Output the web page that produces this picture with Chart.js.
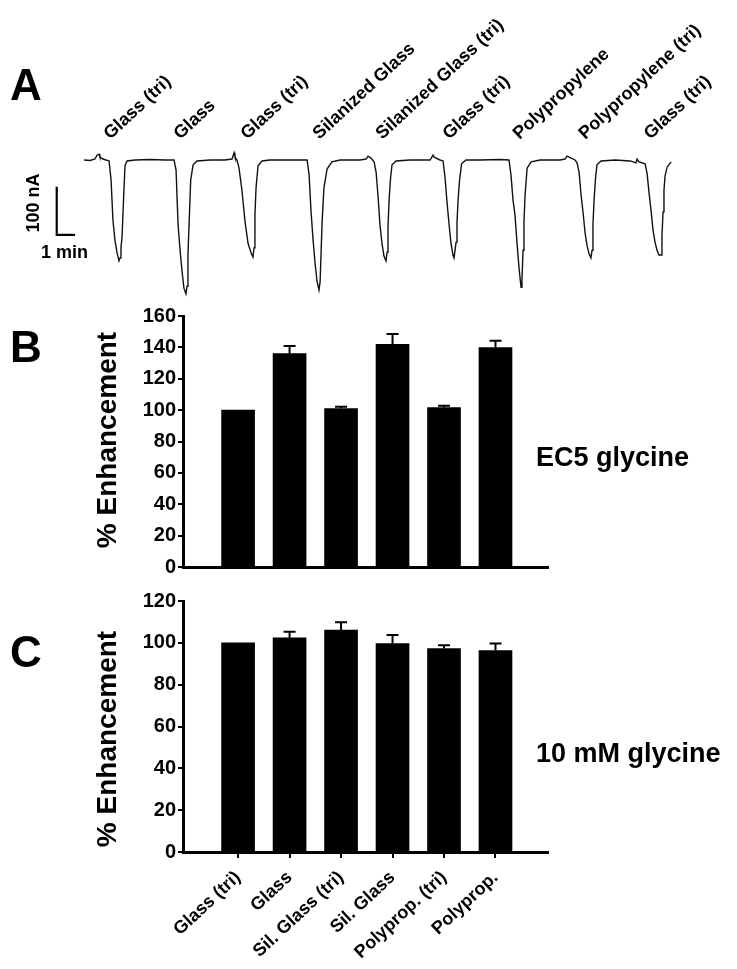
<!DOCTYPE html>
<html><head><meta charset="utf-8">
<script src="https://cdn.jsdelivr.net/npm/chart.js@4.4.0/dist/chart.umd.min.js"></script>
<style>
body{margin:0;background:#fff;}
#fig{position:relative;width:737px;height:969px;overflow:hidden;background:#fff;font-family:'Liberation Sans',Arial,Helvetica,sans-serif;font-weight:bold;color:#000;}
canvas{position:absolute;left:0;}
.t{position:absolute;line-height:1;white-space:nowrap;}
.rot{position:absolute;line-height:1;white-space:nowrap;transform:translate(-50%,-50%) rotate(-90deg);}
</style></head><body>
<div id="fig">
<canvas id="ca" width="737" height="310" style="top:0px"></canvas>
<canvas id="cb" width="737" height="287" style="top:300px"></canvas>
<canvas id="cc" width="737" height="389" style="top:580px"></canvas>
<div class="t" style="left:10px;top:63px;font-size:44px">A</div>
<div class="t" style="left:10px;top:325px;font-size:44px">B</div>
<div class="t" style="left:10px;top:630px;font-size:44px">C</div>
<div class="rot" style="left:33px;top:203px;font-size:18px">100 nA</div>
<div class="t" style="left:41px;top:243px;font-size:18px">1 min</div>
<div class="rot" style="left:107px;top:440px;font-size:28px">% Enhancement</div>
<div class="rot" style="left:107px;top:739px;font-size:28px">% Enhancement</div>
<div class="t" style="left:536px;top:444px;font-size:27px">EC5 glycine</div>
<div class="t" style="left:536px;top:740px;font-size:27px">10 mM glycine</div>
</div>
<script>
// ---------- Panel A: current trace (time in min, current in nA) ----------
const traceT = [0,0.33,0.60,0.71,0.82,0.87,1.04,1.20,1.37,1.48,1.58,1.69,1.80,1.91,1.97,2.02,2.08,2.16,2.24,2.35,2.79,3.61,4.43,4.92,
5.03,5.14,5.25,5.36,5.46,5.57,5.63,5.68,5.74,5.83,5.96,6.17,6.89,7.70,8.09,8.20,8.25,8.36,
8.47,8.63,8.80,8.96,9.13,9.23,9.29,9.34,9.40,9.51,9.73,10.16,11.26,12.19,
12.30,12.40,12.51,12.62,12.73,12.84,12.90,12.95,13.01,13.11,13.28,13.55,13.99,15.08,15.41,15.52,15.68,15.85,
15.96,16.07,16.17,16.28,16.39,16.50,16.56,16.61,16.67,16.75,16.83,17.05,17.81,18.91,19.07,19.13,19.45,19.62,
19.73,19.84,19.95,20.05,20.16,20.22,20.33,20.38,20.44,20.52,20.63,20.87,21.64,22.73,23.22,
23.33,23.44,23.55,23.66,23.77,23.88,23.93,23.99,24.04,24.10,24.21,24.43,24.92,26.01,26.28,26.39,26.50,26.83,26.94,
27.05,27.16,27.27,27.38,27.49,27.60,27.70,27.76,27.81,27.87,27.95,28.03,28.25,29.02,29.84,30.16,30.22,30.33,30.66,
30.77,30.87,30.98,31.09,31.20,31.31,31.42,31.53,31.58,31.64,31.69,31.75,31.86,32.08];
const traceI = [0,-1,2,10,12,6,2,0,-2,-42,-125,-167,-192,-210,-204,-183,-160,-83,-12,-2,0,1,0,0,
-21,-135,-188,-233,-267,-279,-263,-198,-135,-42,-10,-2,0,0,2,15,6,0,
-17,-63,-129,-173,-194,-202,-183,-115,-58,-12,-2,0,0,0,
-31,-104,-163,-213,-252,-271,-254,-198,-129,-58,-19,-4,0,0,2,8,4,-4,
-25,-77,-135,-173,-200,-210,-192,-142,-83,-38,-10,-2,0,0,10,6,0,-2,
-38,-90,-135,-173,-198,-204,-171,-131,-83,-42,-8,0,0,1,0,
-31,-83,-115,-173,-225,-265,-250,-188,-129,-73,-17,-4,0,0,2,8,6,0,-6,
-25,-73,-110,-152,-179,-196,-204,-188,-135,-83,-38,-10,-2,0,-2,-6,2,-4,-8,
-29,-67,-104,-146,-171,-188,-198,-198,-158,-108,-63,-33,-15,-4];
// scale bar: 100 nA x 1 min
const scaleBarT = [-1.49,-1.49,-0.49];
const scaleBarI = [-56,-156,-156];
// application labels and their onset times (min)
const eventLabels = ['Glass (tri)','Glass','Glass (tri)','Silanized Glass','Silanized Glass (tri)','Glass (tri)','Polypropylene','Polypropylene (tri)','Glass (tri)'];
const eventT = [1.44,5.26,8.92,12.86,16.30,19.96,23.79,27.39,30.95];

// ---------- Panels B and C ----------
const categories = ['Glass (tri)','Glass','Sil. Glass (tri)','Sil. Glass','Polyprop. (tri)','Polyprop.'];
const ec5Values = [100,136,101,142,101.7,139.8];
const ec5Errors = [0,4.9,1.2,6.6,1.1,4.4];
const mm10Values = [100,102.4,106.1,99.7,97.3,96.3];
const mm10Errors = [0,2.9,3.7,4.1,1.5,3.4];

const FONT = "'Liberation Sans', Arial, Helvetica, sans-serif";
Chart.defaults.font.family = FONT;
Chart.defaults.color = '#000';
Chart.defaults.animation = false;

const labelPlugin = {
  id:'eventLabels',
  afterDatasetsDraw(chart){
    const ctx = chart.ctx, xs = chart.scales.x;
    ctx.save();
    ctx.font = "bold 18px " + FONT;
    ctx.fillStyle = '#000';
    ctx.textAlign = 'left';
    ctx.textBaseline = 'alphabetic';
    eventT.forEach((t,i)=>{
      ctx.save();
      ctx.translate(xs.getPixelForValue(t), 140);
      ctx.rotate(-43*Math.PI/180);
      ctx.fillText(eventLabels[i],0,0);
      ctx.restore();
    });
    ctx.restore();
  }
};

new Chart(document.getElementById('ca'), {
  type:'line',
  data:{datasets:[
    {data: traceT.map((t,i)=>({x:t,y:traceI[i]})), borderColor:'#111', borderWidth:1.4, pointRadius:0, tension:0, fill:false},
    {data: scaleBarT.map((t,i)=>({x:t,y:scaleBarI[i]})), borderColor:'#000', borderWidth:2.2, pointRadius:0, tension:0, fill:false}
  ]},
  options:{
    responsive:false, animation:false,
    layout:{padding:0},
    plugins:{legend:{display:false}, tooltip:{enabled:false}},
    scales:{
      x:{type:'linear', min:-4.59, max:35.68, display:false},
      y:{type:'linear', min:-312.5, max:333.3, display:false}
    }
  },
  plugins:[labelPlugin]
});

function errorPlugin(errs){
  return {
    id:'errbars',
    afterDatasetsDraw(chart){
      const ctx = chart.ctx, xs = chart.scales.x, ys = chart.scales.y;
      const vals = chart.data.datasets[0].data;
      ctx.save();
      ctx.strokeStyle = '#000';
      ctx.lineWidth = 2;
      vals.forEach((p,i)=>{
        const e = errs[i];
        if(!e) return;
        const x = xs.getPixelForValue(p.x);
        const y0 = ys.getPixelForValue(p.y);
        const y1 = ys.getPixelForValue(p.y + e);
        ctx.beginPath();
        ctx.moveTo(x, y0); ctx.lineTo(x, y1);
        ctx.moveTo(x-6, y1); ctx.lineTo(x+6, y1);
        ctx.stroke();
      });
      ctx.restore();
    }
  };
}

function barChart(id, values, errs, yMax, showLabels, topPad, xHeight){
  return new Chart(document.getElementById(id), {
    type:'bar',
    data:{datasets:[{
      data: values.map((v,i)=>({x:i+1, y:v})),
      backgroundColor:'#000', borderWidth:0, barThickness:33
    }]},
    options:{
      responsive:false, animation:false,
      layout:{padding:{top:topPad, right:189, left:0, bottom:0}},
      plugins:{legend:{display:false}, tooltip:{enabled:false}},
      scales:{
        x:{
          type:'linear', min:-0.07, max:7.02, offset:false,
          grid:{display:showLabels, drawOnChartArea:false, drawTicks:true, tickLength:6, color:'#000', lineWidth:2, offset:false},
          border:{display:true, color:'#000', width:3},
          afterBuildTicks:(s)=>{ s.ticks = categories.map((c,i)=>({value:i+1})); },
          afterFit:(s)=>{ s.height = xHeight; },
          ticks:{display:showLabels, autoSkip:false, minRotation:43, maxRotation:43, padding:9,
                 color:'#000', font:{size:18, weight:'bold'},
                 callback:(v)=>categories[Math.round(v)-1]}
        },
        y:{
          min:0, max:yMax,
          grid:{display:true, drawOnChartArea:false, drawTicks:true, tickLength:5, color:'#000', lineWidth:2},
          border:{display:true, color:'#000', width:3},
          afterFit:(s)=>{ s.width = 183; },
          ticks:{stepSize:20, padding:2, color:'#000', font:{size:20, weight:'bold'}}
        }
      }
    },
    plugins:[errorPlugin(errs)]
  });
}

barChart('cb', ec5Values, ec5Errors, 160, false, 16, 20);
barChart('cc', mm10Values, mm10Errors, 120, true, 21, 117);
</script>
</body></html>
